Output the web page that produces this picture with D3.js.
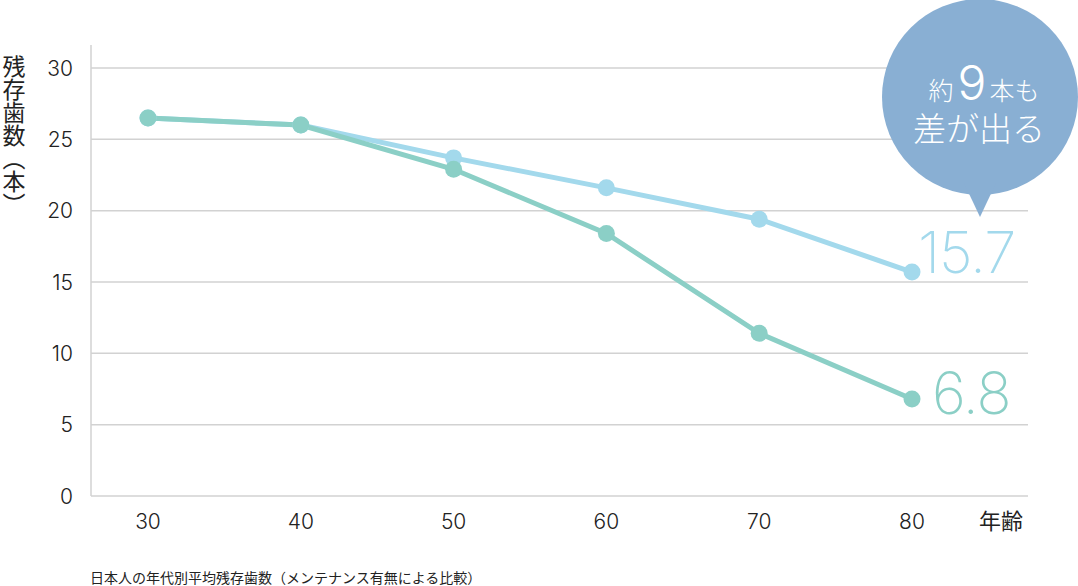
<!DOCTYPE html>
<html><head><meta charset="utf-8">
<script src="https://cdn.jsdelivr.net/npm/d3@7"></script>
<style>body{margin:0;background:#fff}svg{display:block}</style>
</head><body>
<script>
const ages = [30, 40, 50, 60, 70, 80];
const withMaintenance = [26.5, 26.0, 23.7, 21.6, 19.4, 15.7];
const withoutMaintenance = [26.5, 26.0, 22.9, 18.4, 11.4, 6.8];
const yTicks = [0, 5, 10, 15, 20, 25, 30];
const yTitle = "残存歯数（本）";
const xTitle = "年齢";
const caption = "日本人の年代別平均残存歯数（メンテナンス有無による比較）";

const W = 1078, H = 586;
const font = "'Noto Sans CJK JP', 'Noto Sans', sans-serif";
const numFont = "Inter, 'Liberation Sans', Arial, sans-serif";
const blue = "#a3d9ec", green = "#8bcfc6", bubble = "#89afd3";

const svg = d3.select("body").append("svg").attr("width", W).attr("height", H);
const x = d3.scaleLinear().domain([30, 80]).range([148, 912]);
const y = d3.scaleLinear().domain([0, 30]).range([496, 68]);

// grid
svg.append("g").selectAll("line").data(yTicks).join("line")
  .attr("x1", 91).attr("x2", 1028).attr("y1", d => y(d)).attr("y2", d => y(d))
  .attr("stroke", "#d2d2d2").attr("stroke-width", 1.5);
svg.append("line").attr("x1", 91).attr("x2", 91).attr("y1", 45).attr("y2", 496)
  .attr("stroke", "#d2d2d2").attr("stroke-width", 1.5);

// y ticks
svg.append("g").selectAll("text").data(yTicks).join("text")
  .attr("x", 73).attr("y", d => y(d)).attr("dy", "0.36em").attr("text-anchor", "end")
  .attr("font-family", numFont).attr("font-weight", 300).attr("font-size", 21).attr("fill", "#222").text(d => d);
// x ticks
svg.append("g").selectAll("text").data(ages).join("text")
  .attr("x", d => x(d)).attr("y", 529).attr("text-anchor", "middle")
  .attr("font-family", numFont).attr("font-weight", 300).attr("font-size", 21).attr("fill", "#222").text(d => d);
svg.append("text").attr("x", 1001).attr("y", 529).attr("text-anchor", "middle")
  .attr("font-family", font).attr("font-size", 22).attr("fill", "#222").text(xTitle);

// y title vertical
svg.append("text").attr("x", 14).attr("y", 55)
  .attr("font-family", font).attr("font-size", 23).attr("fill", "#222")
  .style("writing-mode", "vertical-rl").text(yTitle);

// caption
svg.append("text").attr("x", 90).attr("y", 583)
  .attr("font-family", font).attr("font-size", 14).attr("fill", "#222").text(caption);

const line = d3.line().x((d, i) => x(ages[i])).y(d => y(d));
svg.append("path").datum(withMaintenance).attr("d", line).attr("fill", "none")
  .attr("stroke", blue).attr("stroke-width", 5);
svg.append("path").datum(withoutMaintenance).attr("d", line).attr("fill", "none")
  .attr("stroke", green).attr("stroke-width", 5);
svg.append("g").selectAll("circle").data(withMaintenance).join("circle")
  .attr("cx", (d, i) => x(ages[i])).attr("cy", d => y(d)).attr("r", 8.5).attr("fill", blue);
svg.append("g").selectAll("circle").data(withoutMaintenance).join("circle")
  .attr("cx", (d, i) => x(ages[i])).attr("cy", d => y(d)).attr("r", 8.5).attr("fill", green);

// end labels
svg.append("text").attr("x", 918).attr("y", y(withMaintenance[5]) + 1)
  .attr("font-family", numFont).attr("font-size", 58).attr("font-weight", 250)
  .attr("fill", blue).style("letter-spacing", "-1px").text(withMaintenance[5]);
svg.append("text").attr("x", 932).attr("y", y(withoutMaintenance[5]) + 15)
  .attr("font-family", numFont).attr("font-size", 58).attr("font-weight", 250)
  .attr("fill", green).style("letter-spacing", "-1px").text(withoutMaintenance[5]);

// bubble
const bx = 980, by = 97, br = 98;
svg.append("circle").attr("cx", bx).attr("cy", by).attr("r", br).attr("fill", bubble);
svg.append("path").attr("d", `M${bx-16},${by+br-12} L${bx},${217} L${bx+16},${by+br-12} Z`).attr("fill", bubble);
const t1 = svg.append("text").attr("x", bx + 4).attr("y", 100).attr("text-anchor", "middle")
  .attr("font-family", font).attr("font-weight", 300).attr("fill", "#fff");
t1.append("tspan").attr("font-size", 25).text("約");
t1.append("tspan").attr("font-size", 48).attr("font-family", numFont).attr("font-weight", 300).attr("dx", 4).text("9");
t1.append("tspan").attr("font-size", 25).attr("dx", 3).text("本も");
svg.append("text").attr("x", bx - 1).attr("y", 141).attr("text-anchor", "middle")
  .attr("font-family", font).attr("font-weight", 300).attr("font-size", 33).attr("fill", "#fff").text("差が出る");
</script>
</body></html>
